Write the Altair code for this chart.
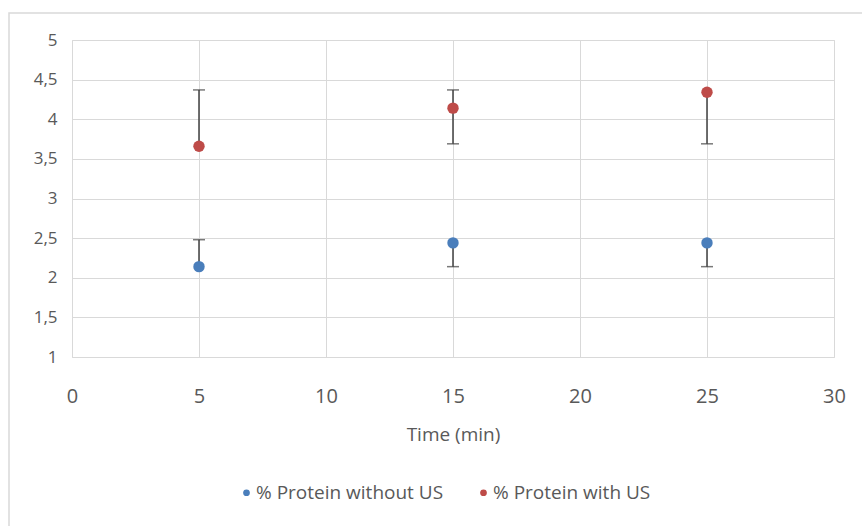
import altair as alt
import pandas as pd

# Data
times = [5, 15, 25]
series_names = ["% Protein without US", "% Protein with US"]
without_us = [2.14, 2.44, 2.44]
with_us = [3.66, 4.14, 4.34]
without_us_low = [2.14, 2.14, 2.14]
without_us_high = [2.48, 2.44, 2.44]
with_us_low = [3.66, 3.69, 3.69]
with_us_high = [4.37, 4.37, 4.34]
x_ticks = [0, 5, 10, 15, 20, 25, 30]
y_ticks = [1, 1.5, 2, 2.5, 3, 3.5, 4, 4.5, 5]
colors = ["#4a7ebb", "#be4b48"]

rows = []
caps = []
for name, vals, lows, highs in [
    (series_names[0], without_us, without_us_low, without_us_high),
    (series_names[1], with_us, with_us_low, with_us_high),
]:
    for t, v, lo, hi in zip(times, vals, lows, highs):
        rows.append({"time": t, "value": v, "lo": lo, "hi": hi, "series": name})
        if hi > v:
            caps.append({"time": t, "cap": hi, "series": name})
        if lo < v:
            caps.append({"time": t, "cap": lo, "series": name})

df = pd.DataFrame(rows)
caps_df = pd.DataFrame(caps)

FONT = "Open Sans"
TXT = "#595959"

x_scale = alt.Scale(domain=[0, 30], nice=False, zero=False)
y_scale = alt.Scale(domain=[1, 5], nice=False, zero=False)

x_axis = alt.Axis(
    values=x_ticks, tickCount=len(x_ticks), grid=True, gridColor="#d9d9d9",
    domain=False, ticks=False, labelFontSize=20, labelColor=TXT, labelFont=FONT,
    labelPadding=29, labelFlush=False, labelOverlap=False,
    title="Time (min)", titleFont=FONT, titleFontSize=19,
    titleFontWeight="normal", titleColor=TXT, titlePadding=19,
)
y_axis = alt.Axis(
    values=y_ticks, tickCount=len(y_ticks), grid=True, gridColor="#d9d9d9",
    domain=False, ticks=False, labelFontSize=17, labelColor=TXT, labelFont=FONT,
    labelPadding=15, labelOverlap=False, labelFlush=False, title=None,
    labelExpr="replace(toString(datum.value), '.', ',')",
)

border = alt.Chart(pd.DataFrame({"a": [0]})).mark_rect(
    fill=None, stroke="#d9d9d9", strokeWidth=1.5, clip=False
).encode(
    x=alt.value(-63), x2=alt.value(800), y=alt.value(-27), y2=alt.value(500)
)

bars = alt.Chart(df).mark_rule(color="#404040", strokeWidth=1.5).encode(
    x=alt.X("time:Q", scale=x_scale, axis=x_axis),
    y=alt.Y("lo:Q", scale=y_scale, axis=y_axis),
    y2="hi:Q",
)

cap_marks = alt.Chart(caps_df).mark_tick(
    orient="horizontal", size=12, thickness=1.5, color="#404040"
).encode(
    x=alt.X("time:Q", scale=x_scale, axis=x_axis),
    y=alt.Y("cap:Q", scale=y_scale, axis=y_axis),
)

points = alt.Chart(df).mark_circle(size=130, opacity=1).encode(
    x=alt.X("time:Q", scale=x_scale, axis=x_axis),
    y=alt.Y("value:Q", scale=y_scale, axis=y_axis),
    color=alt.Color(
        "series:N",
        scale=alt.Scale(domain=series_names, range=colors),
        legend=alt.Legend(
            title=None, orient="none", direction="horizontal",
            legendX=165, legendY=443, symbolType="circle", symbolSize=45,
            labelFont=FONT, labelFontSize=19, labelColor=TXT, labelLimit=0,
            columnPadding=30, labelOffset=0,
        ),
    ),
)

chart = alt.layer(border, bars, cap_marks, points).properties(
    width=762, height=317,
    padding={"left": 72, "top": 40, "right": 28, "bottom": 169},
    autosize=alt.AutoSizeParams(type="none"),
).configure_view(stroke="#d9d9d9", strokeWidth=1.5).configure(background="white")

chart.save("out.html", embed_options={"renderer": "svg", "actions": False})
